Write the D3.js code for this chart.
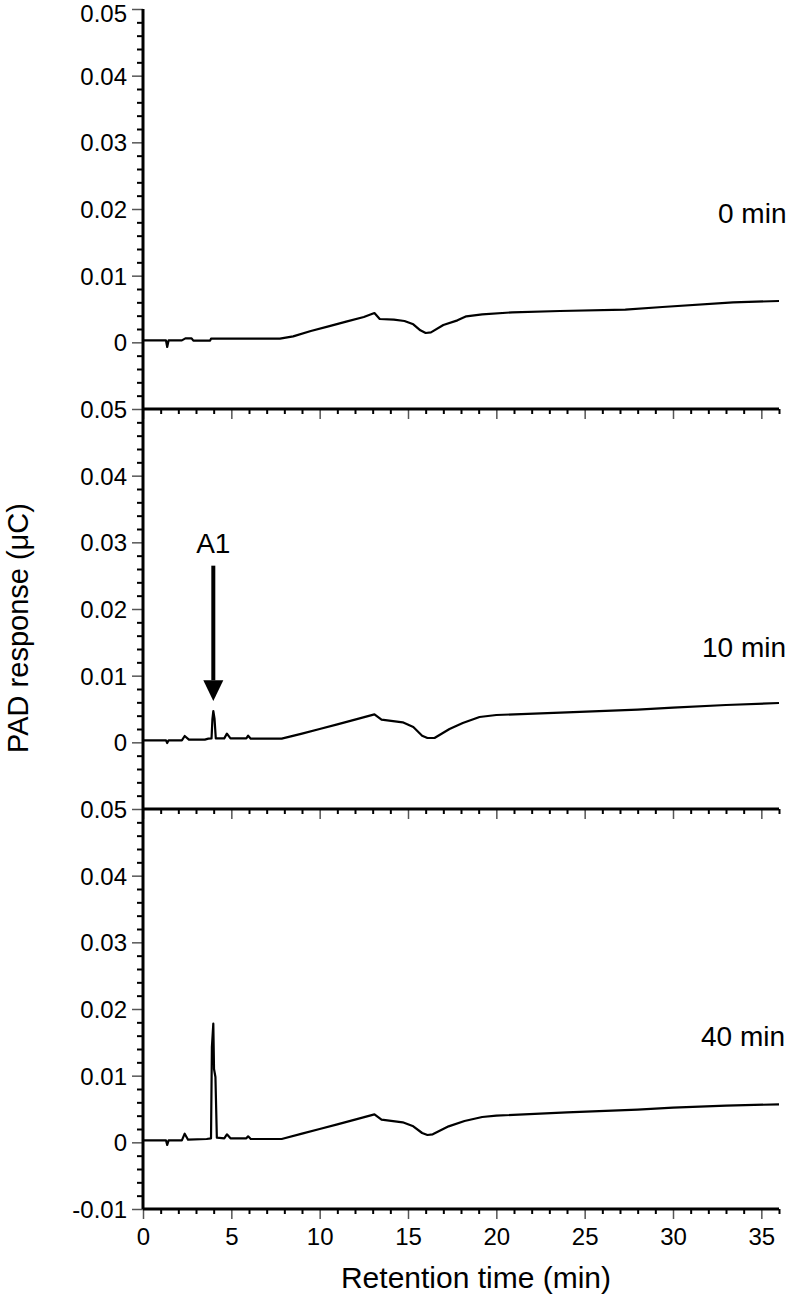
<!DOCTYPE html>
<html><head><meta charset="utf-8">
<script src="https://cdn.jsdelivr.net/npm/d3@7/dist/d3.min.js"></script>
<style>
body{margin:0;background:#fff;}
text{font-family:"Liberation Sans",Arial,sans-serif;fill:#000;}
</style></head>
<body><svg id="chart" width="793" height="1299"></svg>
<script>
// ---- data ----
const panelLabels = ["0 min", "10 min", "40 min"];
const xTicksMajor = [0, 5, 10, 15, 20, 25, 30, 35];
const yTicksMajorUpper = [0, 0.01, 0.02, 0.03, 0.04, 0.05];
const yTicksMajorBottom = [-0.01, 0, 0.01, 0.02, 0.03, 0.04, 0.05];
const yTickLabels = {"-0.01": "-0.01", "0": "0", "0.01": "0.01", "0.02": "0.02", "0.03": "0.03", "0.04": "0.04", "0.05": "0.05"};

const t0 = [0,1.3,1.37,1.45,2.2,2.4,2.75,2.85,3.8,3.85,7.75,8.5,9.5,10.5,11.5,12.5,13.1,13.4,14.2,14.8,15.3,15.7,16.0,16.3,17.0,17.8,18.3,19.2,20.9,23.6,27.3,29.4,33.4,36.0];
const v0 = [0.0003,0.0003,-0.0007,0.0003,0.0003,0.0006,0.0006,0.00025,0.00025,0.00055,0.00055,0.0009,0.0017,0.0024,0.0031,0.0038,0.0044,0.0035,0.0034,0.0032,0.0027,0.0018,0.0014,0.0015,0.0026,0.0033,0.0039,0.0042,0.0045,0.0047,0.0049,0.0053,0.0060,0.0062];

const t10 = [0,1.3,1.37,1.45,2.2,2.36,2.6,3.5,3.7,3.88,3.93,3.98,4.05,4.12,4.6,4.75,4.95,5.85,5.95,6.1,7.85,9,10,11,12,13.1,13.5,14.7,15.3,15.8,16.1,16.5,17.35,18.1,19.05,20,24,28,30,33,36];
const v10 = [0.0003,0.0003,-0.0001,0.0003,0.0003,0.00095,0.0004,0.0004,0.00055,0.0006,0.0035,0.0047,0.0035,0.0006,0.0006,0.0013,0.0006,0.0006,0.001,0.00055,0.00055,0.0013,0.002,0.0027,0.0034,0.0042,0.0034,0.0030,0.0023,0.0010,0.00065,0.00065,0.002,0.0029,0.0038,0.0041,0.0045,0.0049,0.0052,0.0056,0.0059];

const t40 = [0,1.3,1.37,1.45,2.2,2.36,2.55,3.6,3.85,3.9,3.98,4.02,4.1,4.18,4.6,4.75,4.95,5.85,5.95,6.1,7.85,9,10,11,12,13.1,13.5,14.7,15.3,15.8,16.1,16.4,17.3,18.2,19.2,20,24,28,30,33,36];
const v40 = [0.0003,0.0003,-0.0004,0.0003,0.0003,0.0013,0.0004,0.0005,0.0006,0.0143,0.0178,0.011,0.0098,0.0007,0.0006,0.0012,0.0006,0.0006,0.0009,0.0005,0.0005,0.0013,0.002,0.0027,0.0034,0.0042,0.0034,0.003,0.0024,0.0014,0.0011,0.0012,0.0024,0.0032,0.0038,0.0040,0.0045,0.0049,0.0052,0.0055,0.0057];

const a1Time = 3.98;

// ---- layout ----
const svg = d3.select("#chart");
const left = 143, right = 779, panelTop0 = 9, panelH = 400;
const x = d3.scaleLinear().domain([0, 36]).range([left, right]);
const traces = [[t0, v0], [t10, v10], [t40, v40]];
const xMinor = d3.range(0, 37, 1).filter(d => d % 5 !== 0);

const fmt = d => yTickLabels[String(+d.toFixed(2))] || d3.format(".2f")(d).replace("−", "-");

traces.forEach(([ts, vs], i) => {
  const top = panelTop0 + i * panelH;
  const y = d3.scaleLinear().domain([-0.01, 0.05]).range([top + panelH, top]);
  const g = svg.append("g");
  const isBottom = i === 2;
  const majors = isBottom ? yTicksMajorBottom : yTicksMajorUpper;
  const yMinor = d3.range(-0.01, 0.0501, 0.002).filter(d => Math.abs(Math.round(d * 100) - d * 100) > 1e-6);

  // minor y ticks
  const gyMin = g.append("g").attr("transform", `translate(${left},0)`)
    .call(d3.axisLeft(y).tickValues(yMinor).tickSize(6).tickFormat(""));
  gyMin.select(".domain").remove();
  gyMin.selectAll("line").attr("stroke", "#000").attr("stroke-width", 2);
  // major y ticks
  const gy = g.append("g").attr("transform", `translate(${left},0)`)
    .call(d3.axisLeft(y).tickValues(majors).tickSize(11).tickPadding(5).tickFormat(fmt));
  gy.select(".domain").remove();
  gy.selectAll("line").attr("stroke", "#555").attr("stroke-width", 1.5);
  gy.selectAll("text").attr("font-size", 24)
    .attr("dy", d => (i === 0 && d === 0.05) ? "0.5em" : "0.35em")
    .attr("font-family", "Liberation Sans, Arial, sans-serif");

  // x ticks at panel bottom
  const gxMin = g.append("g").attr("transform", `translate(0,${top + panelH})`)
    .call(d3.axisBottom(x).tickValues(xMinor).tickSize(5).tickFormat(""));
  gxMin.select(".domain").remove();
  gxMin.selectAll("line").attr("stroke", "#000").attr("stroke-width", 2);
  const gx = g.append("g").attr("transform", `translate(0,${top + panelH})`)
    .call(d3.axisBottom(x).tickValues(xTicksMajor).tickSize(10).tickPadding(9).tickFormat(isBottom ? d3.format("d") : ""));
  gx.select(".domain").remove();
  gx.selectAll("line").attr("stroke", "#555").attr("stroke-width", 1.5);
  gx.selectAll("text").attr("font-size", 24).attr("font-family", "Liberation Sans, Arial, sans-serif");

  // bottom line of panel
  g.append("line").attr("x1", x(0)).attr("x2", x(36))
    .attr("y1", y(-0.01)).attr("y2", y(-0.01))
    .attr("stroke", "#000").attr("stroke-width", 3);

  // trace
  const pts = ts.map((t, k) => [t, vs[k]]);
  g.append("path").datum(pts)
    .attr("fill", "none").attr("stroke", "#000").attr("stroke-width", 2.2)
    .attr("stroke-linejoin", "round")
    .attr("d", d3.line().x(d => x(d[0])).y(d => y(d[1])));

  // panel label
  const labelY = [223, 657, 1046][i];
  g.append("text").attr("x", [718, 702, 701][i]).attr("y", labelY)
    .attr("font-size", 28).text(panelLabels[i]);

  if (i === 1) {
    const ax = x(a1Time);
    g.append("line").attr("x1", ax).attr("x2", ax)
      .attr("y1", y(0.0265)).attr("y2", y(0.0093))
      .attr("stroke", "#000").attr("stroke-width", 4);
    g.append("path")
      .attr("d", `M${ax - 10},${y(0.0093)} L${ax + 10},${y(0.0093)} L${ax},${y(0.0062)} Z`)
      .attr("fill", "#000");
    g.append("text").attr("x", ax).attr("y", y(0.0284)).attr("text-anchor", "middle")
      .attr("font-size", 28).text("A1");
  }
});

// y axis line
svg.append("line").attr("x1", left).attr("x2", left)
  .attr("y1", panelTop0).attr("y2", panelTop0 + 3 * panelH)
  .attr("stroke", "#000").attr("stroke-width", 3);

// titles
svg.append("text").attr("x", 476).attr("y", 1288).attr("text-anchor", "middle")
  .attr("font-size", 30).text("Retention time (min)");
svg.append("text").attr("transform", "translate(28,628) rotate(-90)")
  .attr("text-anchor", "middle").attr("font-size", 29).text("PAD response (μC)");
</script></body></html>
